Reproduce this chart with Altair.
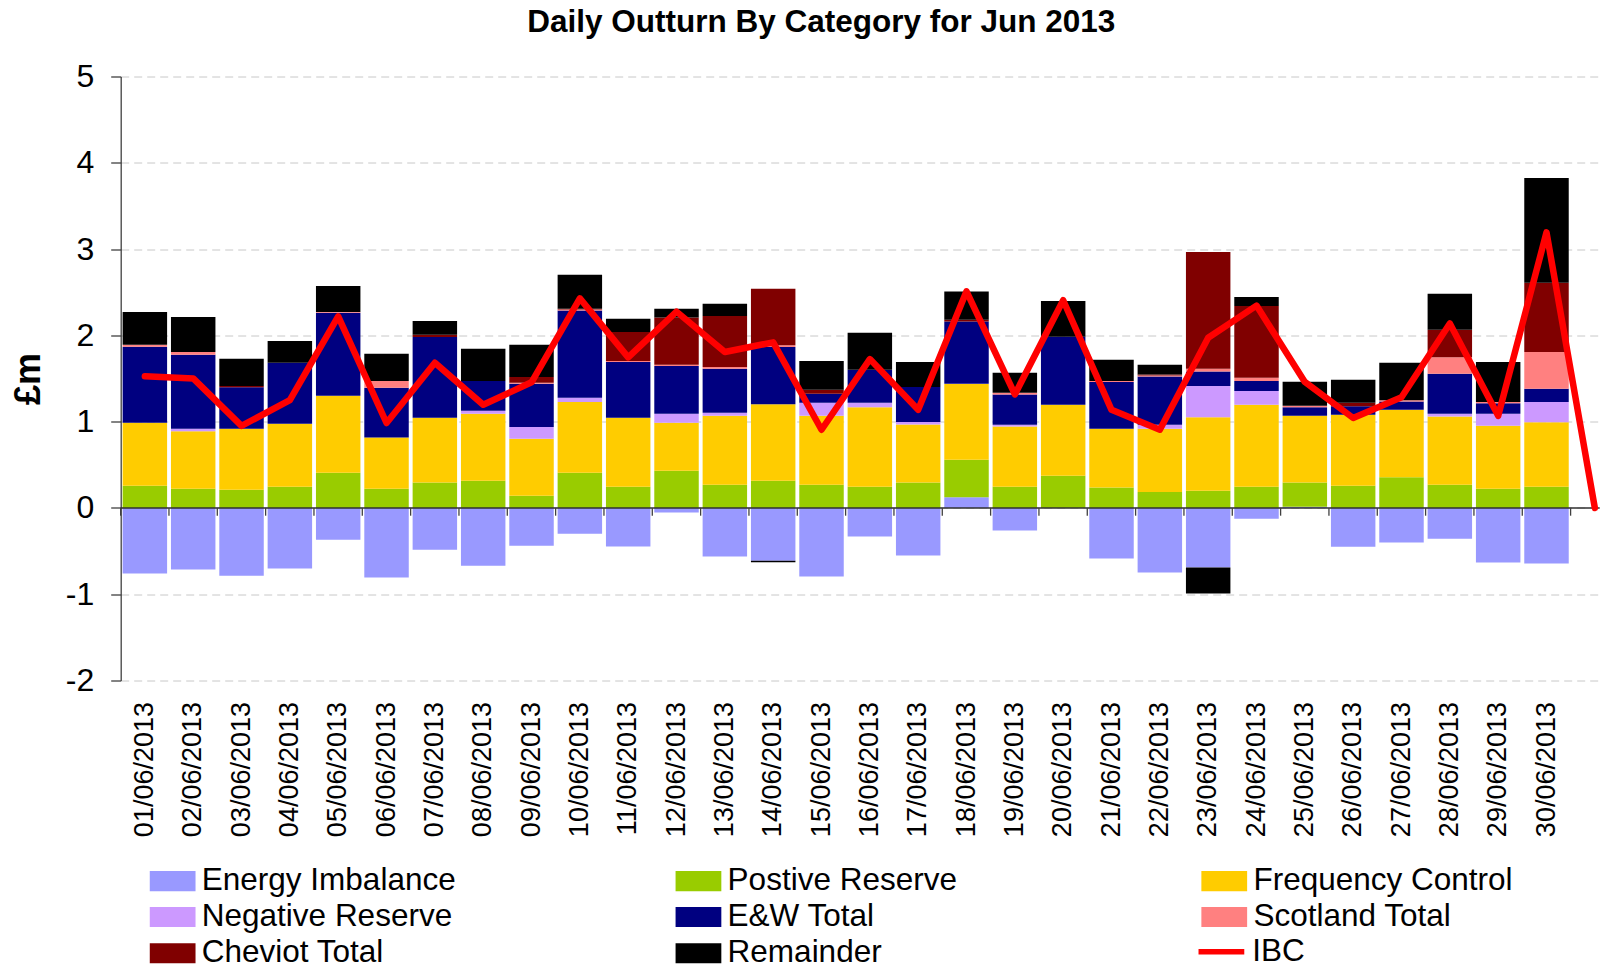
import altair as alt
import pandas as pd

FONT = "Liberation Sans"

dates = ["01/06/2013", "02/06/2013", "03/06/2013", "04/06/2013", "05/06/2013",
         "06/06/2013", "07/06/2013", "08/06/2013", "09/06/2013", "10/06/2013",
         "11/06/2013", "12/06/2013", "13/06/2013", "14/06/2013", "15/06/2013",
         "16/06/2013", "17/06/2013", "18/06/2013", "19/06/2013", "20/06/2013",
         "21/06/2013", "22/06/2013", "23/06/2013", "24/06/2013", "25/06/2013",
         "26/06/2013", "27/06/2013", "28/06/2013", "29/06/2013", "30/06/2013"]
extra_cat = " "  # empty category after the last day (IBC falls to 0 there)

series_names = ["Energy Imbalance", "Postive Reserve", "Frequency Control",
                "Negative Reserve", "E&W Total", "Scotland Total",
                "Cheviot Total", "Remainder"]
series_colors = ["#9999FF", "#99CC00", "#FFCC00", "#CC99FF",
                 "#000080", "#FF8080", "#800000", "#000000"]

energy_imbalance = [-0.761, -0.715, -0.786, -0.703, -0.368, -0.806, -0.484, -0.670, -0.438, -0.298,
                    -0.447, -0.054, -0.562, -0.612, -0.794, -0.331, -0.550, 0.124, -0.261, 0.0,
                    -0.587, -0.749, -0.691, -0.124, 0.015, -0.451, -0.401, -0.356, -0.633, -0.645]
positive_reserve = [0.256, 0.223, 0.211, 0.244, 0.409, 0.223, 0.294, 0.314, 0.141, 0.409,
                    0.244, 0.430, 0.269, 0.314, 0.269, 0.244, 0.294, 0.434, 0.244, 0.372,
                    0.236, 0.186, 0.199, 0.244, 0.280, 0.256, 0.356, 0.269, 0.223, 0.244]
frequency_control = [0.732, 0.666, 0.707, 0.732, 0.890, 0.592, 0.752, 0.778, 0.661, 0.819,
                     0.802, 0.558, 0.798, 0.889, 0.798, 0.922, 0.674, 0.877, 0.699, 0.823,
                     0.682, 0.732, 0.851, 0.951, 0.773, 0.823, 0.781, 0.790, 0.728, 0.749]
negative_reserve = [0.0, 0.029, 0.0, 0.0, 0.0, 0.0, 0.0, 0.033, 0.137, 0.050,
                    0.0, 0.104, 0.037, 0.0, 0.153, 0.054, 0.029, 0.005, 0.021, 0.0,
                    0.0, 0.046, 0.364, 0.161, 0.0, 0.0, 0.0, 0.033, 0.141, 0.235]
ew_total = [0.881, 0.856, 0.480, 0.707, 0.963, 0.579, 0.935, 0.347, 0.500, 1.009,
            0.645, 0.554, 0.509, 0.662, 0.103, 0.380, 0.405, 0.720, 0.351, 0.790,
            0.542, 0.558, 0.166, 0.116, 0.099, 0.100, 0.095, 0.463, 0.120, 0.153]
scotland_total = [0.021, 0.033, 0.0, 0.0, 0.008, 0.078, 0.0, 0.0, 0.013, 0.012,
                  0.013, 0.012, 0.021, 0.021, 0.0, 0.0, 0.0, 0.0, 0.021, 0.0,
                  0.012, 0.012, 0.033, 0.038, 0.017, 0.0, 0.017, 0.190, 0.016, 0.426]
cheviot_total = [0.0, 0.0, 0.016, 0.0, 0.0, 0.0, 0.025, 0.0, 0.066, 0.009,
                 0.335, 0.550, 0.591, 0.653, 0.046, 0.0, 0.0, 0.020, 0.0, 0.0,
                 0.0, 0.013, 1.352, 0.831, 0.0, 0.041, 0.0, 0.319, 0.0, 0.803]
remainder = [0.380, 0.406, 0.315, 0.252, 0.302, 0.315, 0.161, 0.373, 0.372, 0.393,
             0.153, 0.100, 0.141, -0.017, 0.335, 0.431, 0.289, 0.327, 0.231, 0.414,
             0.244, 0.111, -0.302, 0.103, 0.277, 0.265, 0.434, 0.417, 0.463, 1.215]
ibc = [1.526, 1.501, 0.951, 1.249, 2.221, 0.984, 1.683, 1.195, 1.456, 2.428,
       1.745, 2.275, 1.807, 1.919, 0.906, 1.725, 1.137, 2.510, 1.315, 2.407,
       1.137, 0.906, 1.973, 2.345, 1.460, 1.042, 1.282, 2.138, 1.067, 3.193, 0.0]

y_ticks = [-2, -1, 0, 1, 2, 3, 4, 5]

series_values = [energy_imbalance, positive_reserve, frequency_control, negative_reserve,
                 ew_total, scotland_total, cheviot_total, remainder]

rows = []
for i, (name, vals) in enumerate(zip(series_names, series_values)):
    for d, v in zip(dates, vals):
        rows.append({"date": d, "series": name, "order": i, "value": v})
bars_df = pd.DataFrame(rows)
line_df = pd.DataFrame({"date": dates + [extra_cat], "series": ["IBC"] * 31, "value": ibc})
ticks_df = pd.DataFrame({"date": dates + [extra_cat]})

W, H = 1479, 604
x_domain = dates + [extra_cat]
x_scale = alt.Scale(domain=x_domain, range=[0, 1498.3], paddingInner=0.08, paddingOuter=0.04)
y_scale = alt.Scale(domain=[-2, 5], nice=False, zero=False)

x_axis = alt.Axis(title=None, labelAngle=-90, labelFontSize=27, labelFont=FONT,
                  labelColor="black", labelPadding=21, domain=False, ticks=False,
                  grid=False, labelOverlap=False, labelLimit=400)
y_axis = alt.Axis(title="£m", values=y_ticks, labelExpr="'' + datum.value",
                  labelFontSize=32, labelFont=FONT,
                  labelColor="black", labelPadding=17, tickSize=10, tickColor="#404040",
                  domainColor="#404040", domainWidth=1.3, tickWidth=1.3,
                  grid=True, gridDash=[8, 5], gridColor="#c8c8c8", gridWidth=1,
                  titleFontSize=36, titleFont=FONT, titleFontWeight="bold",
                  titleColor="black", titleAngle=-90, titleX=-92, titleY=H / 2,
                  titleAlign="center", titleBaseline="middle")

# legend symbol geometry: a 45.7 x 20 px rectangle, drawn wider than the
# nominal symbol size so that the entry height follows the label font
SYM = 28.6
rect_path = "M-1.6,-0.7L1.6,-0.7L1.6,0.7L-1.6,0.7Z"
line_path = "M-1.6,0L1.6,0"
LEG_FONT = 31.5

bars = alt.Chart(bars_df).mark_bar(opacity=1).encode(
    x=alt.X("date:N", scale=x_scale, axis=x_axis, sort=None),
    y=alt.Y("value:Q", scale=y_scale, axis=y_axis, stack="zero"),
    color=alt.Color("series:N",
                    scale=alt.Scale(domain=series_names, range=series_colors),
                    legend=alt.Legend(orient="none", legendX=36.2, legendY=788.5,
                                      direction="horizontal", columns=3, title=None,
                                      gridAlign="all",
                                      symbolType=rect_path, symbolSize=SYM * SYM,
                                      symbolStrokeWidth=0, symbolOpacity=1,
                                      labelFontSize=LEG_FONT, labelFont=FONT,
                                      labelColor="black", labelLimit=500, labelOffset=13.4,
                                      columnPadding=212.8, rowPadding=3.2)),
    order=alt.Order("order:Q", sort="ascending"),
)

zero_rule = alt.Chart(pd.DataFrame({"v": [0]})).mark_rule(color="#303030", strokeWidth=1.5).encode(
    y=alt.Y("v:Q", scale=y_scale, axis=y_axis),
)

x_ticks = alt.Chart(ticks_df).mark_rule(color="#404040", strokeWidth=1.3, xOffset=-2).encode(
    x=alt.X("date:N", scale=x_scale, axis=x_axis, sort=None, bandPosition=0),
    y=alt.YDatum(0, scale=y_scale, axis=y_axis),
    y2=alt.Y2Datum(-0.09),
)

line = alt.Chart(line_df).mark_line(strokeWidth=6.5, strokeCap="round", strokeJoin="round").encode(
    x=alt.X("date:N", scale=x_scale, axis=x_axis, sort=None),
    y=alt.Y("value:Q", scale=y_scale, axis=y_axis),
    color=alt.Color("series:N", scale=alt.Scale(domain=["IBC"], range=["#FF0000"]),
                    legend=alt.Legend(orient="none", legendX=1083.2, legendY=857.8,
                                      title=None, symbolType=line_path, symbolSize=SYM * SYM,
                                      symbolStrokeWidth=5.5, symbolStrokeColor="#FF0000",
                                      symbolFillColor="transparent",
                                      labelFontSize=LEG_FONT, labelFont=FONT,
                                      labelColor="black", labelOffset=13.4)),
)

chart = alt.layer(bars, zero_rule, x_ticks, line).resolve_scale(
    color="independent"
).properties(
    width=W, height=H,
    title=alt.TitleParams("Daily Outturn By Category for Jun 2013", fontSize=31.5,
                          fontWeight="bold", font=FONT, color="black", anchor="middle",
                          dx=-39, dy=13, offset=10, baseline="alphabetic"),
    autosize=alt.AutoSizeParams(type="none"),
    padding={"left": 112.7, "top": 68.5, "right": 0.3, "bottom": 295},
).configure_view(stroke=None)

chart.save("out.html", embed_options={"renderer": "svg", "actions": False})
